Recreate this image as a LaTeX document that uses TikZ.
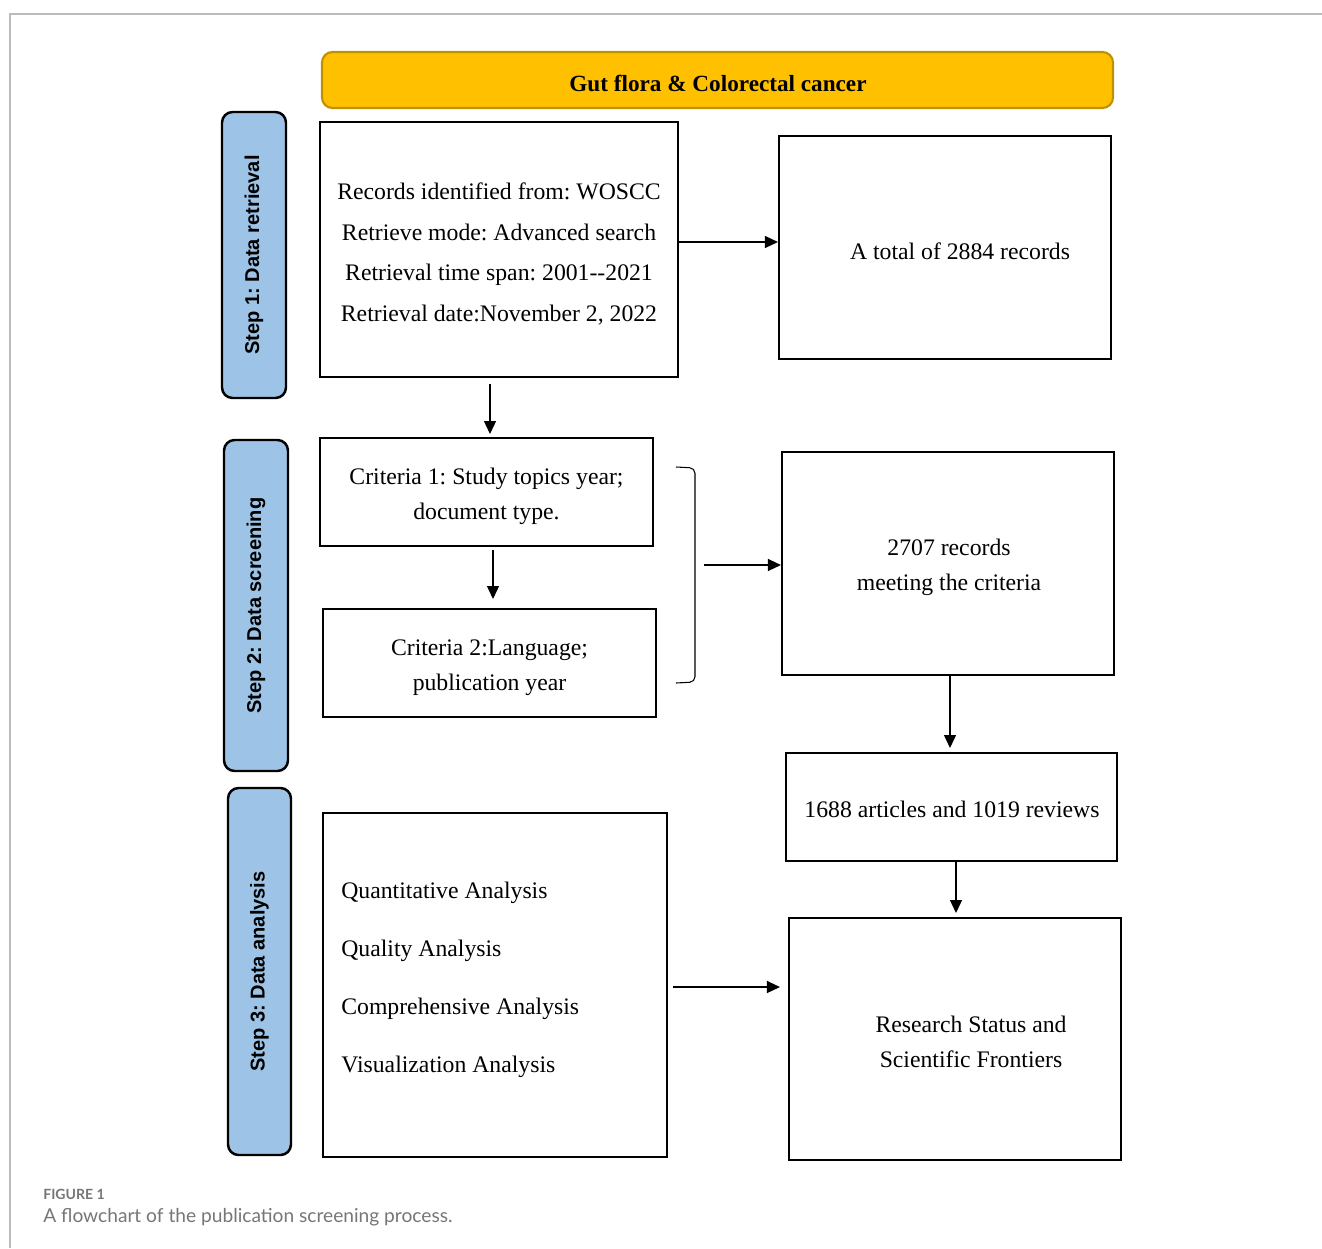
\documentclass[tikz,border=0pt]{standalone}
\usepackage{fontspec}
\setmainfont{Liberation Serif}
\setsansfont{Liberation Sans}
\newfontfamily\capfont{Lato}
\usetikzlibrary{fit,arrows.meta}
\definecolor{gold}{HTML}{FFC000}
\definecolor{goldline}{HTML}{BF9000}
\definecolor{stepblue}{HTML}{9DC3E6}
\definecolor{framegray}{HTML}{BBBBBB}
\definecolor{capgray}{HTML}{767676}
\frenchspacing
\tikzset{
  box/.style={draw=black, line width=1.2pt, inner sep=0pt},
  stepbox/.style={draw=black, line width=1.4pt, fill=stepblue, rounded corners=6pt, inner sep=0pt},
  titlebox/.style={draw=goldline, line width=1.2pt, fill=gold, rounded corners=6pt, inner sep=0pt},
  steplabel/.style={rotate=90, font=\sffamily\bfseries\fontsize{11.4}{13}\selectfont},
  txt/.style={align=center, font=\fontsize{13.5}{23}\selectfont},
  arr/.style={-{Triangle[length=2.6mm,width=2.4mm]}, line width=0.75pt},
}
\begin{document}
\begin{tikzpicture}[x=0.02cm, y=-0.02cm]
\useasboundingbox (0,0) rectangle (1322,1248);
% frame
\draw[framegray, line width=0.9pt] (10,1248) -- (10,14) -- (1322,14);
% title
\node[titlebox, fit={(322,52) (1113,108)}] (title) {};
\node[font=\bfseries\fontsize{13.2}{15}\selectfont] at (718,83) {Gut flora \& Colorectal cancer};
% step boxes
\node[stepbox, fit={(222,112) (286,398)}] (s1) {};
\node[steplabel] at (s1.center) {Step 1: Data retrieval};
\node[stepbox, fit={(224,440) (288,771)}] (s2) {};
\node[steplabel] at (s2.center) {Step 2: Data screening};
\node[stepbox, fit={(228,788) (291,1155)}] (s3) {};
\node[steplabel] at (s3.center) {Step 3: Data analysis};
% boxes
\node[box, fit={(320,122) (678,377)}] (a) {};
\node[txt, font=\fontsize{13.5}{23}\selectfont] at (499,254) {Records identified from: WOSCC\\Retrieve mode: Advanced search\\Retrieval time span: 2001-{}-2021\\Retrieval date:November 2, 2022};
\node[box, fit={(779,136) (1111,359)}] (b) {};
\node[txt] at (960,251) {A total of 2884 records};
\node[box, fit={(320,438) (653,546)}] (c1) {};
\node[txt, font=\fontsize{13.5}{19.8}\selectfont] at (486.5,496.5) {Criteria 1: Study topics year;\\document type.};
\node[box, fit={(323,609) (656,717)}] (c2) {};
\node[txt, font=\fontsize{13.5}{19.8}\selectfont] at (489.5,667.5) {Criteria 2:Language;\\publication year};
\node[box, fit={(782,452) (1114,675)}] (d) {};
\node[txt, font=\fontsize{13.5}{19.8}\selectfont] at (949,567.5) {2707 records\\meeting the criteria};
\node[box, fit={(786,753) (1117,861)}] (e) {};
\node[txt] at (952,809) {1688 articles and 1019 reviews};
\node[box, fit={(323,813) (667,1157)}] (g) {};
\node[anchor=west, inner sep=0pt, align=left, font=\fontsize{13.5}{32.9}\selectfont] at (341,980) {Quantitative Analysis\\Quality Analysis\\Comprehensive Analysis\\Visualization Analysis};
\node[box, fit={(789,918) (1121,1160)}] (f) {};
\node[txt, font=\fontsize{13.5}{19.8}\selectfont] at (971,1041.5) {Research Status and\\Scientific Frontiers};
% bracket
\coordinate (brt) at (676,467);
\coordinate (brb) at (676,683);
\draw[line width=0.6pt, rounded corners=3pt] (brt) -- (695,468) -- (695,682) -- (brb);
\coordinate (brm) at (704,565);
% arrows
\draw[arr] (a.east |- 0,242) -- (b.west |- 0,242);
\draw[arr] (490,384) -- (490,434);
\draw[arr] (493,550) -- (493,599);
\draw[arr] (brm) -- (d.west |- brm);
\draw[arr] (950,675) -- (950,748);
\draw[arr] (956,862) -- (956,913);
\draw[arr, shorten >=0.16cm] (673,987) -- (f.west |- 0,987);
% caption
\node[anchor=west, inner sep=0pt, text=capgray, font=\capfont\bfseries\fontsize{8}{9}\selectfont] at (43,1194) {FIGURE 1};
\node[anchor=west, inner sep=0pt, text=capgray, font=\capfont\fontsize{10.9}{12}\selectfont] at (43,1217) {A flowchart of the publication screening process.};
\end{tikzpicture}
\end{document}
